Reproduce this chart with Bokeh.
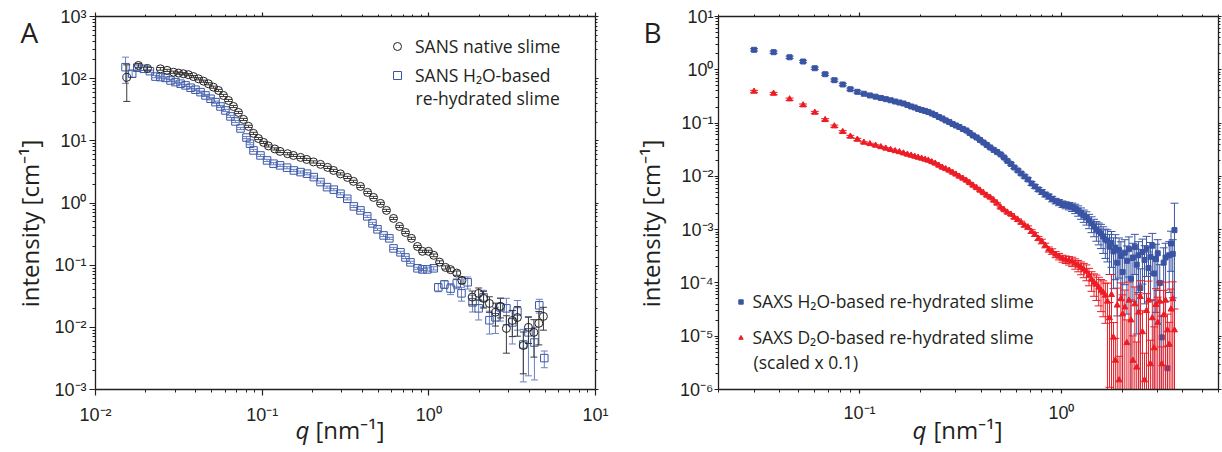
import numpy as np
from bokeh.embed import file_html
from bokeh.layouts import row
from bokeh.models import (ColumnDataSource, CustomJSTickFormatter, FixedTicker,
                          Label, Legend, LegendItem, LogAxis)
from bokeh.plotting import figure
from bokeh.resources import INLINE

# ---------------------------------------------------------------- data
# Panel A: SANS, native slime  (q in nm^-1, I in cm^-1, relative errors)
sans_native_q = [0.0154, 0.0181, 0.0205, 0.0245, 0.0269, 0.0294, 0.0315, 0.0337, 0.0361, 0.0387,
                 0.0415, 0.0445, 0.0476, 0.051, 0.0547, 0.0586, 0.0628, 0.0673, 0.0721, 0.0773,
                 0.0828, 0.0887, 0.095, 0.102, 0.109, 0.119, 0.128, 0.142, 0.154, 0.170,
                 0.185, 0.203, 0.224, 0.247, 0.268, 0.295, 0.325, 0.353, 0.389, 0.429,
                 0.466, 0.513, 0.557, 0.614, 0.667, 0.724, 0.787, 0.855, 0.916, 0.995,
                 1.07, 1.16, 1.26, 1.35, 1.47, 1.58, 1.82, 1.99, 2.13, 2.31,
                 2.51, 2.69, 2.92, 3.17, 3.40, 3.69, 3.96, 4.27, 4.57, 4.87]
sans_native_I = [105, 163, 146, 144, 136, 127, 123, 120, 116, 108,
                 99.5, 91.2, 82.8, 73, 64.6, 53.7, 44.6, 35.7, 28.6, 22.1,
                 17.1, 13.2, 10.9, 9.43, 8.28, 7.41, 6.76, 6.21, 5.82, 5.41,
                 5.02, 4.58, 4.18, 3.74, 3.34, 2.94, 2.58, 2.23, 1.85, 1.48,
                 1.23, 0.986, 0.76, 0.565, 0.42, 0.336, 0.27, 0.20, 0.167, 0.167,
                 0.144, 0.112, 0.092, 0.0848, 0.0747, 0.057, 0.0307, 0.0352, 0.0292, 0.0242,
                 0.0175, 0.0218, 0.0096, 0.0129, 0.0144, 0.0051, 0.0100, 0.0083, 0.0116, 0.0150]
sans_native_rel = [0.59, 0.08, 0.06, 0.05, 0.04, 0.04, 0.04, 0.04, 0.04, 0.04,
                   0.04, 0.04, 0.04, 0.04, 0.04, 0.04, 0.04, 0.04, 0.04, 0.04,
                   0.04, 0.04, 0.04, 0.04, 0.04, 0.04, 0.04, 0.04, 0.04, 0.04,
                   0.04, 0.04, 0.04, 0.04, 0.04, 0.04, 0.04, 0.04, 0.04, 0.04,
                   0.04, 0.04, 0.04, 0.04, 0.04, 0.04, 0.04, 0.04, 0.04, 0.04,
                   0.05, 0.05, 0.06, 0.07, 0.08, 0.12, 0.25, 0.22, 0.30, 0.28,
                   0.40, 0.35, 0.60, 0.45, 0.50, 0.65, 0.45, 0.60, 0.55, 0.40]

# Panel A: SANS, H2O-based re-hydrated slime
sans_h2o_q = [0.01514, 0.0166, 0.0178, 0.0195, 0.0212, 0.0229, 0.0245, 0.0263, 0.0282, 0.0302,
              0.0324, 0.0347, 0.0372, 0.0398, 0.0427, 0.0457, 0.049, 0.0525, 0.0562, 0.0602,
              0.0645, 0.0691, 0.0741, 0.0805, 0.0845, 0.0887, 0.0977, 0.107, 0.117, 0.128,
              0.141, 0.155, 0.170, 0.186, 0.204, 0.224, 0.245, 0.269, 0.295, 0.324,
              0.355, 0.389, 0.427, 0.459, 0.492, 0.535, 0.580, 0.614, 0.676, 0.724,
              0.776, 0.855, 0.916, 0.98, 1.07, 1.14, 1.24, 1.35, 1.47, 1.57,
              1.71, 1.83, 1.99, 2.13, 2.31, 2.51, 2.69, 2.92, 3.17, 3.40,
              3.69, 3.96, 4.30, 4.60, 4.93]
sans_h2o_I = [153, 120, 150, 144, 132, 108, 106, 103, 93.5, 88,
              83, 78, 71.5, 66.4, 60.7, 53.7, 47.5, 41.9, 35.7, 30.8,
              24.7, 20.5, 15.8, 11.3, 9.0, 7.01, 5.82, 4.84, 4.29, 4.03,
              3.70, 3.34, 3.14, 2.96, 2.61, 2.17, 1.80, 1.64, 1.41, 1.17,
              0.881, 0.76, 0.61, 0.47, 0.377, 0.301, 0.27, 0.186, 0.161, 0.133,
              0.111, 0.089, 0.0855, 0.0855, 0.089, 0.044, 0.049, 0.042, 0.051, 0.0352,
              0.053, 0.0252, 0.0202, 0.0303, 0.013, 0.0145, 0.021, 0.0202, 0.012, 0.018,
              0.0053, 0.0083, 0.0057, 0.0226, 0.0032]
sans_h2o_rel = [0.45, 0.12, 0.10, 0.06, 0.04, 0.04, 0.04, 0.04, 0.04, 0.04,
                0.04, 0.04, 0.04, 0.04, 0.04, 0.04, 0.04, 0.04, 0.04, 0.04,
                0.04, 0.04, 0.04, 0.04, 0.04, 0.04, 0.04, 0.04, 0.04, 0.04,
                0.04, 0.04, 0.04, 0.04, 0.04, 0.04, 0.04, 0.04, 0.04, 0.04,
                0.04, 0.04, 0.04, 0.04, 0.04, 0.04, 0.04, 0.04, 0.04, 0.04,
                0.04, 0.04, 0.04, 0.06, 0.06, 0.15, 0.14, 0.20, 0.18, 0.25,
                0.22, 0.30, 0.35, 0.30, 0.40, 0.45, 0.40, 0.45, 0.55, 0.50,
                0.75, 0.80, 0.75, 0.25, 0.30]

# Panel B: SAXS, shared q grid
saxs_q = [0.030, 0.0375, 0.045, 0.0525, 0.060, 0.0675, 0.075, 0.0825, 0.090, 0.0975,
          0.105, 0.1125, 0.120, 0.1275, 0.135, 0.1425, 0.150, 0.1575, 0.165, 0.1725,
          0.180, 0.1875, 0.195, 0.203, 0.211, 0.219, 0.228, 0.237, 0.247, 0.257,
          0.267, 0.278, 0.289, 0.300, 0.312, 0.325, 0.338, 0.351, 0.365, 0.380,
          0.395, 0.411, 0.427, 0.444, 0.462, 0.480, 0.500, 0.520, 0.540, 0.562,
          0.584, 0.608, 0.632, 0.657, 0.683, 0.711, 0.739, 0.769, 0.800, 0.832,
          0.865, 0.900, 0.936, 0.973, 1.012, 1.05, 1.09, 1.13, 1.17, 1.21,
          1.25, 1.29, 1.33, 1.37, 1.41, 1.45, 1.49, 1.53, 1.57, 1.61,
          1.65, 1.69, 1.73, 1.77, 1.81, 1.85, 1.89, 1.93, 1.97, 2.01,
          2.06, 2.11, 2.16, 2.21, 2.26, 2.31, 2.36, 2.41, 2.46, 2.52,
          2.58, 2.64, 2.70, 2.76, 2.82, 2.88, 2.94, 3.00, 3.07, 3.14,
          3.21, 3.28, 3.35, 3.42, 3.49, 3.56, 3.63]
saxs_h2o_I = [2.37, 2.14, 1.72, 1.43, 1.07, 0.826, 0.638, 0.530, 0.432, 0.386,
              0.355, 0.330, 0.313, 0.296, 0.281, 0.268, 0.254, 0.243, 0.233, 0.219,
              0.205, 0.196, 0.184, 0.176, 0.169, 0.162, 0.151, 0.142, 0.130, 0.122,
              0.112, 0.105, 0.0962, 0.0901, 0.0845, 0.0775, 0.0726, 0.0652, 0.0585, 0.0537,
              0.0482, 0.0432, 0.0388, 0.0348, 0.0313, 0.0287, 0.0258, 0.0226, 0.0195, 0.0171,
              0.0147, 0.0129, 0.0113, 0.00996, 0.00875, 0.00736, 0.00647, 0.00568, 0.00510, 0.00457,
              0.00420, 0.00377, 0.00345, 0.00324, 0.00303, 0.00290, 0.00279, 0.00267, 0.00250, 0.00229,
              0.00206, 0.00185, 0.00169, 0.00149, 0.00131, 0.00115, 0.00101, 0.000925, 0.000849, 0.000745,
              0.000655, 6.2e-4, 4.8e-4, 5.6e-4, 3.9e-4, 4.6e-4, 2.4e-4, 4.1e-4, 3.2e-4, 1.6e-4,
              3.7e-4, 2.6e-4, 4.3e-4, 1.2e-4, 3.0e-4, 4.8e-4, 2.2e-4, 3.3e-4, 8.0e-5, 3.8e-4,
              2.7e-4, 4.4e-4, 1.9e-4, 3.1e-4, 5.0e-4, 1.5e-4, 2.8e-4, 3.6e-4, 1.0e-4, 9.5e-6,
              2.4e-4, 3.0e-4, 2.5e-6, 3.3e-4, 5.5e-4, 3.5e-4, 9.8e-4]
saxs_h2o_rel = [0.05, 0.05, 0.05, 0.05, 0.05, 0.05, 0.05, 0.05, 0.05, 0.05,
                0.03, 0.03, 0.03, 0.03, 0.03, 0.03, 0.03, 0.03, 0.03, 0.03,
                0.03, 0.03, 0.03, 0.03, 0.03, 0.03, 0.03, 0.03, 0.03, 0.03,
                0.03, 0.03, 0.03, 0.03, 0.03, 0.03, 0.03, 0.03, 0.03, 0.03,
                0.03, 0.03, 0.03, 0.03, 0.03, 0.03, 0.03, 0.03, 0.03, 0.05,
                0.05, 0.06, 0.06, 0.07, 0.07, 0.08, 0.08, 0.09, 0.10, 0.10,
                0.11, 0.12, 0.12, 0.13, 0.14, 0.15, 0.16, 0.18, 0.20, 0.22,
                0.24, 0.26, 0.28, 0.30, 0.33, 0.36, 0.40, 0.44, 0.48, 0.52,
                0.56, 0.60, 0.70, 0.65, 0.80, 0.75, 0.90, 0.70, 0.85, 1.10,
                0.75, 0.90, 0.70, 1.20, 0.85, 0.70, 0.95, 0.80, 1.30, 0.75,
                0.85, 0.70, 1.00, 0.85, 0.70, 1.10, 0.90, 0.80, 1.20, 1.50,
                0.90, 0.85, 1.60, 0.80, 0.70, 0.85, 2.20]
# D2O-based slime, already multiplied by 0.1
saxs_d2o_I = [0.392, 0.359, 0.281, 0.217, 0.158, 0.115, 0.0875, 0.0687, 0.0561, 0.0492,
              0.0432, 0.0406, 0.0380, 0.0356, 0.0334, 0.0316, 0.0300, 0.0287, 0.0272, 0.0258,
              0.0247, 0.0236, 0.0226, 0.0217, 0.0208, 0.0199, 0.0186, 0.0175, 0.0160, 0.0147,
              0.0138, 0.0129, 0.0118, 0.0109, 0.00996, 0.00914, 0.00838, 0.00752, 0.00675, 0.00606,
              0.00544, 0.00488, 0.00438, 0.00402, 0.00353, 0.00310, 0.00261, 0.00234, 0.00210, 0.00193,
              0.00169, 0.00152, 0.00136, 0.00120, 0.00110, 0.000925, 0.000813, 0.000684, 0.000601, 0.000506,
              0.000426, 0.000390, 0.000343, 0.000314, 0.000288, 0.000276, 0.000264, 0.000253, 0.000232, 0.000213,
              0.000195, 0.000179, 0.000164, 0.000138, 0.000116, 0.000102, 9.37e-5, 8.24e-5, 7.23e-5, 6.63e-5,
              5.82e-5, 4.5e-5, 2.2e-5, 6.0e-5, 9.5e-6, 3.5e-6, 3.8e-5, 1.5e-6, 5.0e-5, 2.6e-5,
              3.5e-5, 7.5e-6, 4.7e-5, 2.0e-5, 3.5e-6, 4.0e-5, 2.6e-6, 2.8e-5, 5.5e-5, 1.2e-5,
              1.5e-6, 3.0e-5, 4.7e-5, 3.0e-6, 2.2e-5, 6.0e-6, 3.9e-5, 1.8e-5, 4.5e-5, 3.0e-6,
              2.5e-5, 4.7e-5, 1.3e-5, 7.0e-6, 3.2e-5, 5.0e-5, 1.3e-5]
saxs_d2o_rel = [0.05, 0.05, 0.05, 0.05, 0.05, 0.05, 0.05, 0.05, 0.05, 0.05,
                0.03, 0.03, 0.03, 0.03, 0.03, 0.03, 0.03, 0.03, 0.03, 0.03,
                0.03, 0.03, 0.03, 0.03, 0.03, 0.03, 0.03, 0.03, 0.03, 0.03,
                0.03, 0.03, 0.03, 0.03, 0.03, 0.03, 0.03, 0.03, 0.03, 0.03,
                0.03, 0.03, 0.03, 0.03, 0.03, 0.03, 0.03, 0.03, 0.03, 0.04,
                0.05, 0.05, 0.06, 0.06, 0.07, 0.08, 0.08, 0.09, 0.10, 0.10,
                0.11, 0.12, 0.13, 0.14, 0.15, 0.16, 0.18, 0.20, 0.22, 0.24,
                0.27, 0.30, 0.33, 0.36, 0.40, 0.45, 0.50, 0.55, 0.60, 0.65,
                0.70, 1.20, 0.95, 1.40, 0.90, 1.60, 1.10, 1.80, 1.00, 1.30,
                1.10, 1.70, 1.20, 1.40, 1.90, 1.10, 2.00, 1.20, 1.00, 1.50,
                2.20, 1.10, 1.30, 1.80, 1.20, 1.50, 1.00, 2.00, 1.30, 1.10,
                1.90, 1.20, 1.00, 1.60, 1.40, 1.10, 1.50]

# ---------------------------------------------------------------- styling
INK = "#231f20"
SANS_BLUE = "#3b58a8"
SANS_BLUE_ERR = "#6a80c0"
SAXS_BLUE = "#3a54a4"
SAXS_RED = "#ed1c24"
TEXT_FONT = "Open Sans"
TICK_FONT = "Liberation Sans"
HEIGHT = 452

POW10 = CustomJSTickFormatter(code="""
const sup = {"-": "\u207b", "0": "\u2070", "1": "\u00b9", "2": "\u00b2", "3": "\u00b3",
             "4": "\u2074", "5": "\u2075", "6": "\u2076", "7": "\u2077", "8": "\u2078", "9": "\u2079"};
const e = Math.round(Math.log10(tick));
return "10" + String(e).split("").map((c) => sup[c]).join("");
""")
BLANK = CustomJSTickFormatter(code="return '';")


def decade_ticker(lim):
    """Decade major ticks and 2..9 minor ticks, restricted to the axis limits."""
    lo, hi = lim
    e0, e1 = int(np.floor(np.log10(lo))), int(np.ceil(np.log10(hi)))
    inside = lambda t: lo * (1 - 1e-9) <= t <= hi * (1 + 1e-9)
    major = [10.0 ** e for e in range(e0, e1 + 1) if inside(10.0 ** e)]
    minor = [m * 10.0 ** e for e in range(e0, e1 + 1) for m in range(2, 10)
             if inside(m * 10.0 ** e)]
    return FixedTicker(ticks=major, minor_ticks=minor)


def style_axis(ax, ticker, labels, tick_out, minor_out, standoff):
    ax.ticker = ticker
    ax.axis_label = None
    ax.axis_line_color = INK
    ax.axis_line_width = 1.3
    ax.major_tick_line_color = INK
    ax.major_tick_line_width = 1.2
    ax.minor_tick_line_color = INK
    ax.minor_tick_line_width = 1
    ax.major_tick_in = 0
    ax.major_tick_out = tick_out
    ax.minor_tick_in = 0
    ax.minor_tick_out = minor_out
    if labels:
        ax.formatter = POW10
        ax.major_label_text_font = TICK_FONT
        ax.major_label_text_font_size = "18px"
        ax.major_label_text_color = INK
        ax.major_label_standoff = standoff
    else:
        ax.formatter = BLANK
        ax.major_label_text_font_size = "1px"
        ax.major_label_standoff = 0


def make_panel(width, box, x_lim, y_lim, tick_out, standoff):
    """The frame fills the whole canvas; the axes are pinned around the data box
    (box = left, right, top, bottom in canvas pixels), so text can sit anywhere."""
    left, right, top, bottom = box
    lx0, lx1 = np.log10(x_lim)
    ly0, ly1 = np.log10(y_lim)
    sx = (lx1 - lx0) / (right - left)
    sy = (ly1 - ly0) / (bottom - top)
    x_range = (10 ** (lx0 - left * sx), 10 ** (lx1 + (width - right) * sx))
    y_range = (10 ** (ly0 - (HEIGHT - bottom) * sy), 10 ** (ly1 + top * sy))
    p = figure(width=width, height=HEIGHT, x_axis_type="log", y_axis_type="log",
               x_range=x_range, y_range=y_range, output_backend="svg",
               toolbar_location=None, min_border=0,
               background_fill_color="white", border_fill_color="white")
    p.grid.visible = False
    p.outline_line_color = None
    p.add_layout(LogAxis(), "above")
    p.add_layout(LogAxis(), "right")
    xt = decade_ticker(x_lim)
    yt = decade_ticker(y_lim)
    style_axis(p.below[0], xt, True, tick_out, 3, 9)
    style_axis(p.left[0], yt, True, tick_out, 3, standoff)
    style_axis(p.above[0], xt, False, 4, 2, 0)
    style_axis(p.right[0], yt, False, 3, 2, 0)
    for ax in (p.below[0], p.above[0]):
        ax.bounds = x_lim
    for ax in (p.left[0], p.right[0]):
        ax.bounds = y_lim
    p.below[0].fixed_location = y_lim[0]
    p.above[0].fixed_location = y_lim[1]
    p.left[0].fixed_location = x_lim[0]
    p.right[0].fixed_location = x_lim[1]
    return p


def error_source(q, I, rel, y_lim):
    q = np.asarray(q, dtype=float)
    I = np.asarray(I, dtype=float)
    rel = np.asarray(rel, dtype=float)
    upper = I * (1 + rel)
    lower = np.where(rel < 1, I * (1 - rel), 0.0)
    # bars that leave the box end at its edge, without a cap
    lower_cap = np.where(lower > y_lim[0], lower, np.nan)
    upper_cap = np.where(upper < y_lim[1], upper, np.nan)
    lower = np.clip(lower, y_lim[0], y_lim[1])
    upper = np.clip(upper, y_lim[0], y_lim[1])
    return ColumnDataSource(dict(q=q, I=I, upper=upper, lower=lower,
                                 upper_cap=upper_cap, lower_cap=lower_cap))


def draw_series(p, src, marker, size, color, err_color, cap, fill):
    p.segment(x0="q", y0="lower", x1="q", y1="upper", source=src,
              line_color=err_color, line_width=1)
    p.scatter(x="q", y="upper_cap", marker="dash", size=cap, source=src,
              line_color=err_color, line_width=1)
    p.scatter(x="q", y="lower_cap", marker="dash", size=cap, source=src,
              line_color=err_color, line_width=1)
    return p.scatter(x="q", y="I", marker=marker, size=size, source=src,
                     line_color=color, fill_color=fill, line_width=1)


def add_text(p, x, y, text, size, angle=0.0, style="normal", align="left"):
    # x, y: canvas pixels from the top-left corner of this panel (text middle)
    p.add_layout(Label(x=x, y=HEIGHT - y, x_units="screen", y_units="screen", text=text,
                       angle=angle, text_font=TEXT_FONT, text_font_size=size,
                       text_font_style=style, text_color=INK, text_align=align,
                       text_baseline="middle"))


def make_legend(items, x, y_top, glyph, standoff, spacing, item_h):
    n = len(items)
    total = n * item_h + (n - 1) * spacing
    return Legend(items=items, location=(x, HEIGHT - y_top - total),
                  glyph_width=glyph, glyph_height=glyph, label_height=item_h,
                  label_standoff=standoff, spacing=spacing, padding=0, margin=0,
                  border_line_alpha=0, background_fill_alpha=0,
                  label_text_font=TEXT_FONT, label_text_font_size="17.5px",
                  label_text_color=INK)


# ---------------------------------------------------------------- panel A
A_LIM_X, A_LIM_Y = (0.01, 10), (1e-3, 1e3)
pa = make_panel(610, (95, 595, 16, 389), A_LIM_X, A_LIM_Y, 6, 3)
src_h2o = error_source(sans_h2o_q, sans_h2o_I, sans_h2o_rel, A_LIM_Y)
src_nat = error_source(sans_native_q, sans_native_I, sans_native_rel, A_LIM_Y)
r_h2o = draw_series(pa, src_h2o, "square", 7.5, SANS_BLUE, SANS_BLUE_ERR, 7, None)
r_nat = draw_series(pa, src_nat, "circle", 8, INK, "#3a3a3a", 7, None)

pa.add_layout(make_legend([LegendItem(label="SANS native slime", renderers=[r_nat]),
                           LegendItem(label="SANS H\u2082O-based", renderers=[r_h2o])],
                          x=387, y_top=33.5, glyph=20, standoff=8, spacing=5, item_h=24))
add_text(pa, 415, 97.5, "re-hydrated slime", "17.5px")

add_text(pa, 20, 31, "A", "28px")
add_text(pa, 29, 223, "intensity [cm\u207b\u00b9]", "24px", angle=np.pi / 2, align="center")
add_text(pa, 295, 429, "q", "24px", style="italic")
add_text(pa, 315, 429, "[nm\u207b\u00b9]", "24px")

# ---------------------------------------------------------------- panel B
B_LIM_X, B_LIM_Y = (0.02, 6), (1e-6, 10)
pb = make_panel(612, (108, 608, 16, 389), B_LIM_X, B_LIM_Y, 4, 1)
src_saxs_h2o = error_source(saxs_q, saxs_h2o_I, saxs_h2o_rel, B_LIM_Y)
src_saxs_d2o = error_source(saxs_q, saxs_d2o_I, saxs_d2o_rel, B_LIM_Y)
r_saxs_h2o = draw_series(pb, src_saxs_h2o, "square", 5, SAXS_BLUE, SAXS_BLUE, 8, SAXS_BLUE)
r_saxs_d2o = draw_series(pb, src_saxs_d2o, "triangle", 6, SAXS_RED, SAXS_RED, 8, SAXS_RED)

pb.add_layout(make_legend([LegendItem(label="SAXS H\u2082O-based re-hydrated slime",
                                      renderers=[r_saxs_h2o]),
                           LegendItem(label="SAXS D\u2082O-based re-hydrated slime",
                                      renderers=[r_saxs_d2o])],
                          x=124.5, y_top=289, glyph=11, standoff=7, spacing=12, item_h=24))
add_text(pb, 143, 361, "(scaled x 0.1)", "17.5px")

add_text(pb, 33, 31, "B", "28px")
add_text(pb, 40, 223, "intensity [cm\u207b\u00b9]", "24px", angle=np.pi / 2, align="center")
add_text(pb, 302, 429, "q", "24px", style="italic")
add_text(pb, 323, 429, "[nm\u207b\u00b9]", "24px")

layout = row(pa, pb)
with open("out.html", "w", encoding="utf-8") as f:
    f.write(file_html(layout, INLINE))
